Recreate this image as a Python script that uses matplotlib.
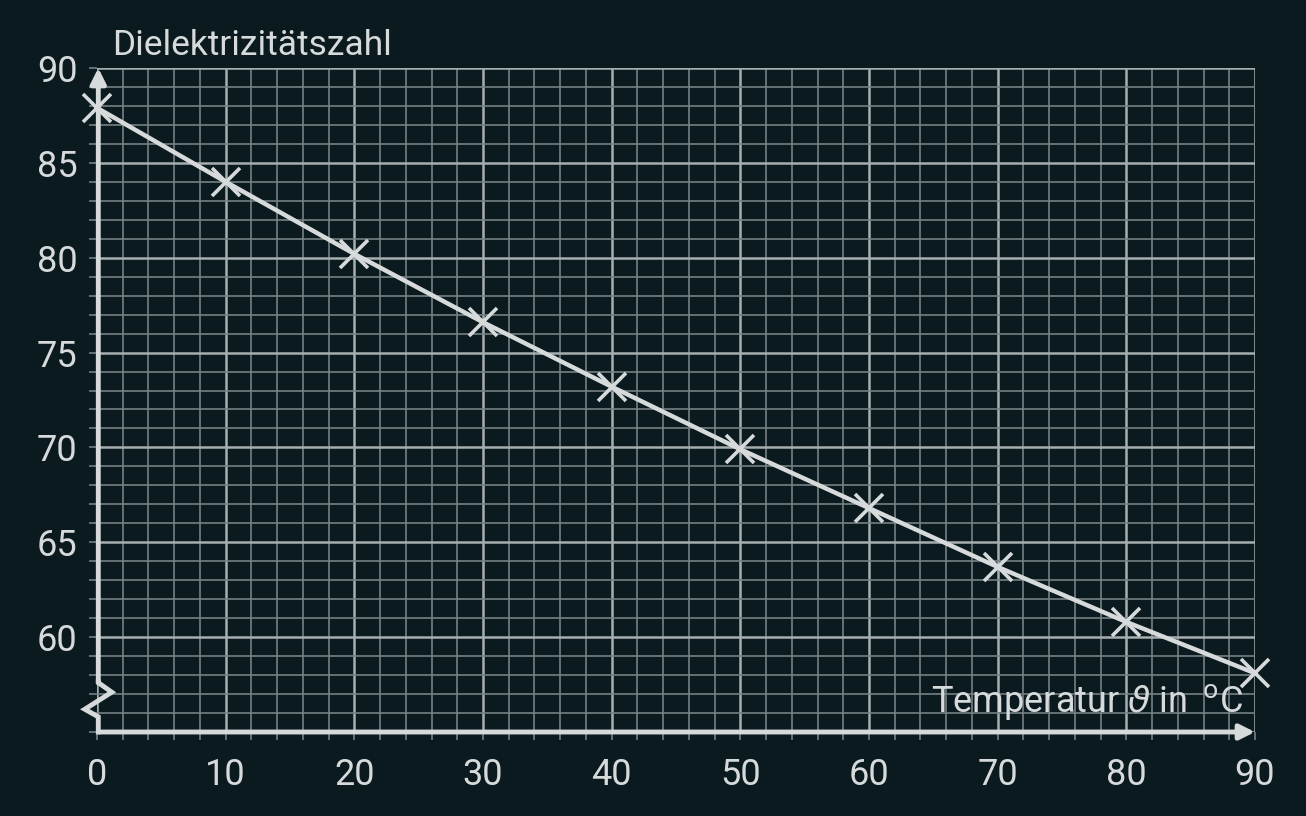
import matplotlib
matplotlib.use("Agg")
import matplotlib.pyplot as plt
import numpy as np

# data
temperatur = [0, 10, 20, 30, 40, 50, 60, 70, 80, 90]
dielektrizitaet = [87.9, 84.0, 80.2, 76.6, 73.2, 69.9, 66.8, 63.7, 60.8, 58.1]
x_ticks = [0, 10, 20, 30, 40, 50, 60, 70, 80, 90]
y_ticks = [60, 65, 70, 75, 80, 85, 90]

bg = "#0a1a1f"
fg = "#d6dadb"
minor_col = "#748083"
major_col = "#a6aeb0"

plt.rcParams['font.family'] = ['Roboto', 'DejaVu Sans']
plt.rcParams['mathtext.fontset'] = 'dejavusans'

fig = plt.figure(figsize=(13.06, 8.16), dpi=100, facecolor=bg)
ax = fig.add_axes([97/1306, 84/816, 1158/1306, 664/816])
ax.set_facecolor(bg)
ax.set_xlim(0, 90)
ax.set_ylim(55, 90)

# grid paper
for xv in np.arange(0, 91, 2):
    major = xv % 10 == 0
    ax.axvline(xv, color=major_col if major else minor_col,
               lw=1.8 if major else 1.2, zorder=1)
for yv in np.arange(55, 91, 1):
    major = yv % 5 == 0
    ax.axhline(yv, color=major_col if major else minor_col,
               lw=1.8 if major else 1.2, zorder=1)

for s in ax.spines.values():
    s.set_visible(False)

ax.set_xticks(x_ticks)
ax.set_yticks(y_ticks)
ax.set_xticks(np.arange(0, 91, 2), minor=True)
ax.set_yticks(np.arange(55, 91, 1), minor=True)
ax.tick_params(axis='both', which='major', labelsize=26, colors=fg,
               labelcolor=fg, length=6, width=1.2)
ax.tick_params(axis='both', which='minor', length=6, width=1.2, color=minor_col)
ax.tick_params(axis='x', which='major', color=minor_col, pad=12)
ax.tick_params(axis='y', which='major', color=minor_col, pad=8)

# axes with arrows
ax.annotate("", xy=(90, 55), xytext=(0.1, 55),
            arrowprops=dict(arrowstyle="-|>,head_length=0.9,head_width=0.45",
                            color=fg, lw=3.5, shrinkA=0, shrinkB=0),
            annotation_clip=False, zorder=5)
ax.annotate("", xy=(0.1, 90), xytext=(0.1, 57.6),
            arrowprops=dict(arrowstyle="-|>,head_length=0.9,head_width=0.45",
                            color=fg, lw=3.5, shrinkA=0, shrinkB=0),
            annotation_clip=False, zorder=5)
# axis break zigzag
ax.plot([0.1, 0.1, 1.15, -0.95, 0.1, 0.1], [57.65, 57.6, 57.1, 56.2, 55.8, 55],
        color=fg, lw=3.5, solid_joinstyle='miter', clip_on=False, zorder=5)

# data
ax.plot(temperatur, dielektrizitaet, color=fg, lw=3.2, marker='x',
        markersize=20, markeredgewidth=2.6, clip_on=False, zorder=6)

ax.text(1.2, 90.7, "Dielektrizitätszahl", fontsize=25.5, color=fg,
        ha='left', va='baseline', zorder=7)
ax.text(89.1, 56.05, r"Temperatur $\vartheta$ in $\,^{\mathrm{o}}$C", fontsize=26,
        color=fg, ha='right', va='baseline', zorder=7)

fig.savefig("out.png", dpi=100, facecolor=bg)
